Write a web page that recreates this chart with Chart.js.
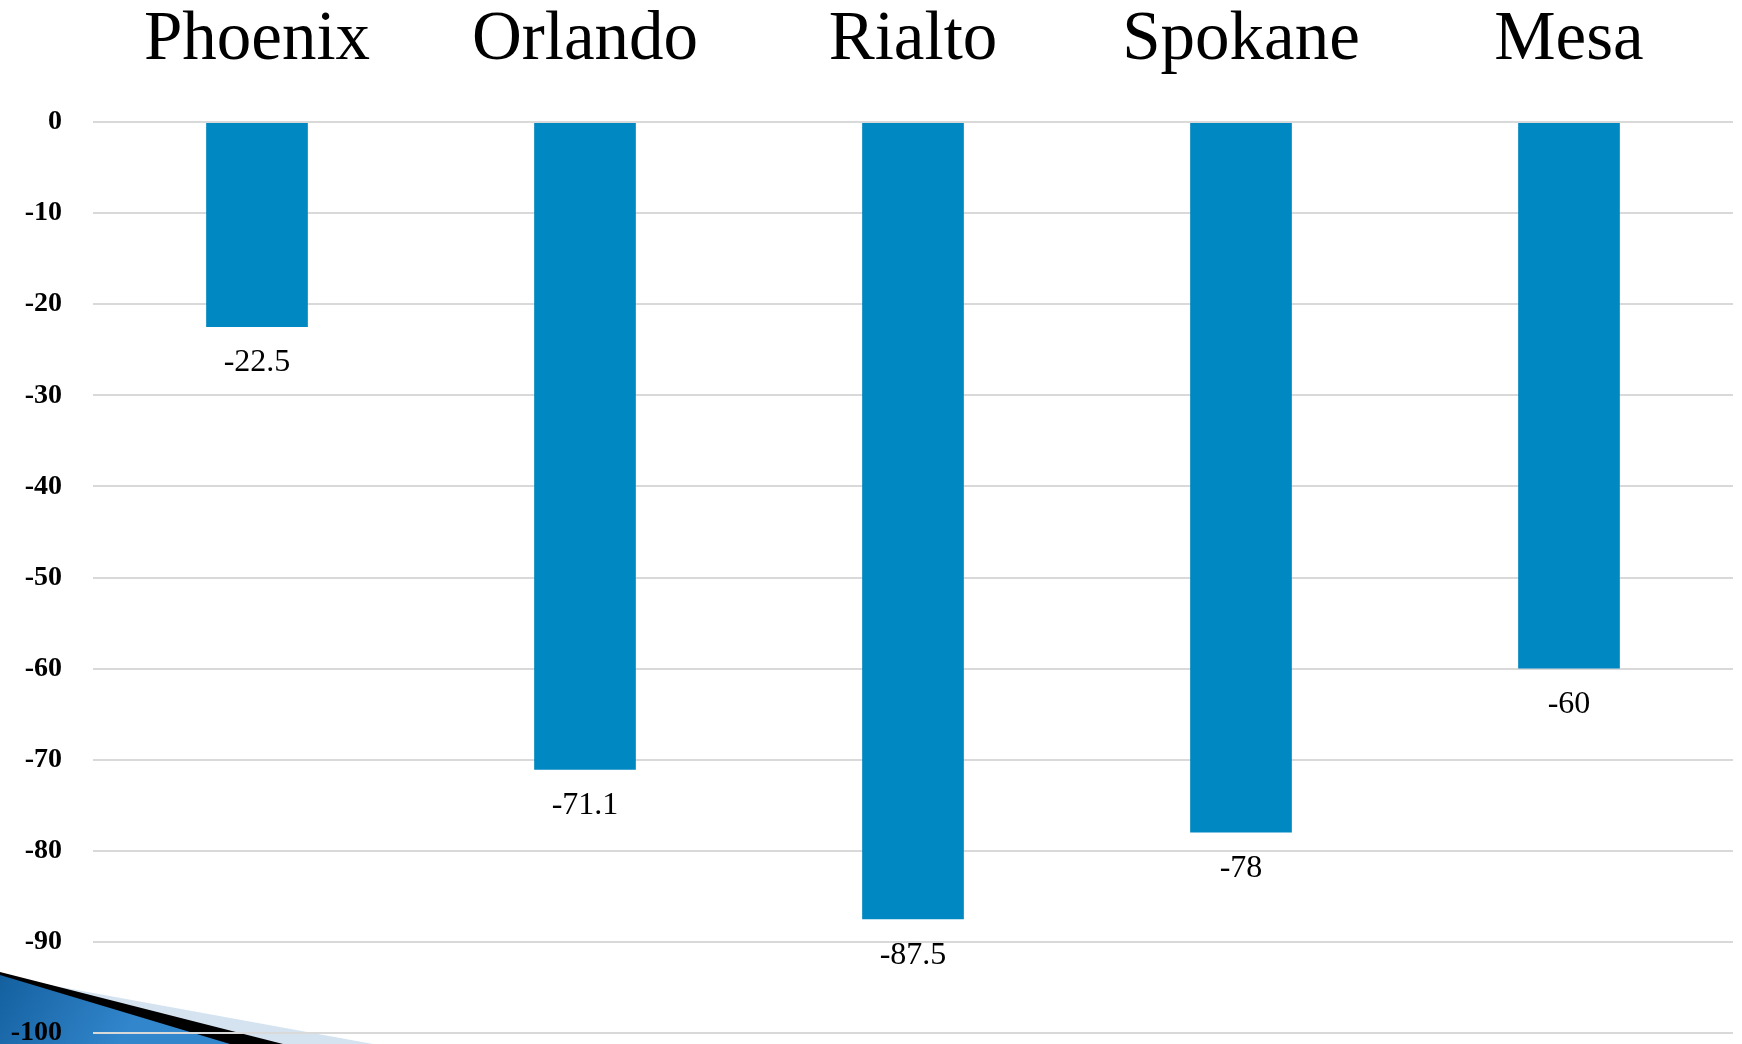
<!DOCTYPE html>
<html>
<head>
<meta charset="utf-8">
<script src="https://cdn.jsdelivr.net/npm/chart.js@4"></script>
<style>
    html, body { margin: 0; padding: 0; background: #fff; overflow: hidden; }
    #wrap { width: 1742px; height: 1044px; position: relative; }
</style>
</head>
<body>
<div id="wrap"><canvas id="chart"></canvas></div>
<script>
const cities = ['Phoenix', 'Orlando', 'Rialto', 'Spokane', 'Mesa'];
const values = [-22.5, -71.1, -87.5, -78, -60];
const valueLabels = ['-22.5', '-71.1', '-87.5', '-78', '-60'];

// slide corner decoration, drawn under the grid
const cornerDeco = {
    id: 'cornerDeco',
    beforeDraw(chart) {
        const ctx = chart.ctx;
        const h = chart.height;
        ctx.save();
        ctx.fillStyle = '#d5e3f1';
        ctx.beginPath();
        ctx.moveTo(0, 976); ctx.lineTo(373, h); ctx.lineTo(0, h);
        ctx.fill();
        ctx.fillStyle = '#000';
        ctx.beginPath();
        ctx.moveTo(0, 972); ctx.lineTo(283, h); ctx.lineTo(0, h);
        ctx.fill();
        const g = ctx.createLinearGradient(0, 975, 120, h);
        g.addColorStop(0, '#14609f');
        g.addColorStop(1, '#3286cc');
        ctx.fillStyle = g;
        ctx.beginPath();
        ctx.moveTo(0, 975); ctx.lineTo(230, h); ctx.lineTo(0, h);
        ctx.fill();
        ctx.restore();
    }
};

const valueTags = {
    id: 'valueTags',
    afterDatasetsDraw(chart) {
        const ctx = chart.ctx;
        const meta = chart.getDatasetMeta(0);
        ctx.save();
        ctx.font = '32px "Liberation Serif"';
        ctx.fillStyle = '#000';
        ctx.textAlign = 'center';
        ctx.textBaseline = 'middle';
        meta.data.forEach((bar, i) => {
            ctx.fillText(valueLabels[i], bar.x, bar.y + 36);
        });
        ctx.restore();
    }
};

new Chart(document.getElementById('chart'), {
    type: 'bar',
    data: {
        labels: cities,
        datasets: [{
            data: values,
            backgroundColor: '#0088c2',
            borderWidth: 0,
            barPercentage: 0.31,
            categoryPercentage: 1
        }]
    },
    options: {
        responsive: true,
        maintainAspectRatio: false,
        animation: false,
        layout: { padding: { top: 0, right: 9, bottom: 11, left: 0 } },
        plugins: {
            legend: { display: false },
            tooltip: { enabled: false }
        },
        scales: {
            x: {
                position: 'top',
                grid: { display: false, drawTicks: false },
                border: { display: false },
                ticks: {
                    font: { family: '"Liberation Serif"', size: 69 },
                    color: '#000',
                    padding: 40
                },
                afterFit(scale) { scale.height = 122; }
            },
            y: {
                min: -100,
                max: 0,
                grid: { color: '#d9d9d9', lineWidth: 2, drawTicks: false },
                border: { display: false },
                ticks: {
                    stepSize: 10,
                    font: { family: '"Liberation Serif"', size: 28, weight: 'bold' },
                    color: '#000',
                    padding: 31
                },
                afterFit(scale) {
                    scale.width = 93;
                    scale.paddingTop = 0;
                    scale.paddingBottom = 0;
                }
            }
        }
    },
    plugins: [cornerDeco, valueTags]
});
</script>
</body>
</html>
